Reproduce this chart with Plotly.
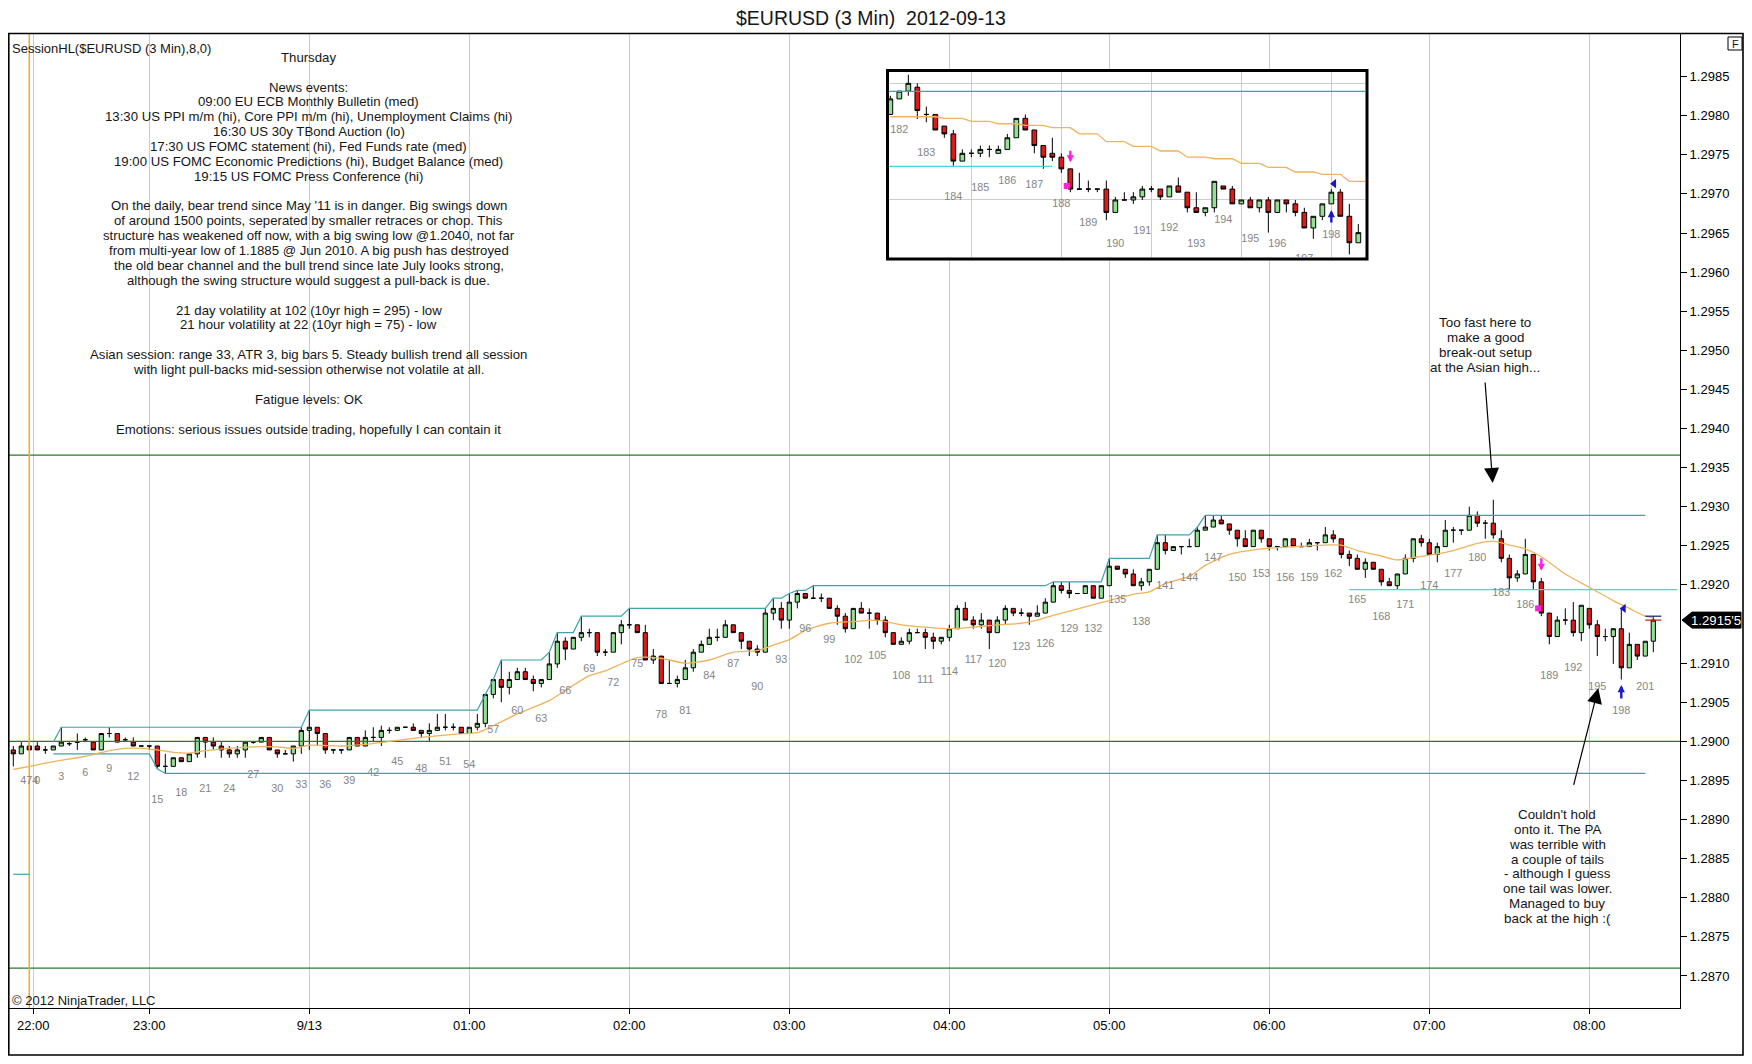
import plotly.graph_objects as go

# The page adds an 8 px body margin, so the figure is placed at (8, 8) on the page
# and kept 8 px short of the right / bottom edge so the page never scrolls.
# All pixel positions below are page positions measured on the reference.
OFF = 8
PAGE_W, PAGE_H = 1752, 1064
FIG_W, FIG_H = PAGE_W - 2 * OFF, PAGE_H - 2 * OFF
L, R, T, B = 8, 1680, 34, 1008      # plot area on the page


def px(x):
    return (x - L) / (R - L)


def py(y):
    return (B - y) / (B - T)


FONT = "Liberation Sans, Arial, sans-serif"
INK = "#161616"
UP = "#93e093"
DOWN = "#dc1a1a"
EMA_COL = "#efb35c"
HL_COL = "#3ea3ad"
LEVEL_COL = "#2a7a2a"
CYAN = "#45d6e0"
GRID = "#cccccc"

BASE = 1.2900   # all *_p values are pips above 1.2900
PIP = 0.0001

# ---- 3 min bars, numbered like the chart (-3..-1 = last bars of previous session)
bar_num = list(range(-3, 203))
open_p = [
    -1.1, -1.6, -0.6, -0.6, -1.1, -1.1, -0.6, -0.3, -0.1, 0.2,
    -0.1, -1.1, 1.0, 1.0, 0.2, -0.1, -0.6, -0.6, -0.6, -3.2,
    -3.2, -2.1, -2.6, -1.6, 0.5, -0.1, -0.6, -1.1, -1.6, -1.1,
    -0.1, -0.1, 0.5, -1.1, -1.6, -1.6, -0.6, 1.4, 1.8, 1.0,
    -1.1, -1.1, -1.1, 0.5, -0.6, 0.5, 0.5, 1.4, 1.4, 1.8,
    1.8, 1.4, 1.0, 1.4, 1.8, 1.8, 1.8, 1.0, 1.8, 2.3,
    6.0, 7.9, 6.9, 7.9, 8.9, 7.9, 7.4, 7.9, 9.9, 12.8,
    11.8, 13.3, 13.9, 13.9, 11.4, 11.4, 13.9, 14.9, 14.9, 13.9,
    10.4, 10.9, 7.4, 7.4, 7.9, 9.4, 11.4, 12.4, 13.3, 13.3,
    14.9, 13.9, 12.8, 11.8, 11.4, 16.4, 17.0, 15.5, 17.8, 18.9,
    18.3, 18.3, 18.3, 17.0, 16.0, 14.4, 17.0, 16.4, 16.4, 15.5,
    13.9, 12.4, 12.8, 13.9, 13.9, 13.3, 12.8, 13.3, 14.4, 17.0,
    15.5, 14.9, 15.5, 13.9, 15.5, 17.0, 16.4, 16.4, 16.0, 16.4,
    17.8, 19.9, 19.3, 18.9, 18.9, 19.9, 18.3, 19.9, 22.4, 22.0,
    21.4, 19.9, 20.4, 22.0, 25.4, 24.4, 24.9, 24.9, 24.9, 27.0,
    27.4, 28.3, 27.8, 27.0, 25.9, 24.9, 27.0, 25.9, 24.9, 24.9,
    25.9, 24.9, 24.9, 25.4, 25.4, 26.4, 25.9, 23.9, 23.4, 22.0,
    22.9, 22.0, 20.4, 19.9, 21.4, 23.4, 25.9, 25.4, 23.9, 24.9,
    27.0, 27.0, 27.0, 28.9, 27.9, 27.9, 25.9, 23.4, 20.9, 21.4,
    23.9, 20.4, 16.4, 13.4, 15.5, 15.5, 13.9, 17.0, 14.9, 13.4,
    13.4, 14.4, 9.4, 12.4, 10.9, 12.8,
]
high_p = [
    -0.6, -0.1, -0.1, -0.1, -0.6, -0.6, 1.8, -0.1, 1.0, 0.5,
    -0.1, 1.0, 1.8, 1.0, 0.5, 0.5, -0.6, -0.6, -0.6, -1.6,
    -2.1, -2.1, -1.6, 0.5, 0.5, 0.5, -0.1, -0.6, -0.6, -0.1,
    0.0, 0.5, 0.5, -1.1, -1.1, -0.6, 1.8, 4.0, 1.8, 1.0,
    -1.1, -1.1, 0.5, 0.5, 1.4, 1.8, 2.0, 1.8, 1.8, 1.8,
    2.3, 1.4, 2.3, 3.5, 3.5, 2.3, 1.8, 1.8, 3.5, 6.0,
    7.9, 10.4, 8.9, 9.4, 9.4, 8.4, 7.9, 11.4, 13.9, 13.3,
    13.3, 16.0, 14.4, 13.9, 11.8, 13.9, 15.5, 17.0, 14.9, 14.9,
    11.8, 10.9, 10.4, 8.4, 10.4, 11.8, 12.9, 14.4, 14.4, 15.5,
    14.9, 13.9, 12.8, 12.3, 17.0, 18.3, 17.8, 18.9, 19.3, 18.9,
    19.9, 18.9, 18.3, 17.4, 16.4, 17.0, 17.8, 17.0, 16.4, 16.0,
    13.9, 13.3, 14.4, 14.4, 14.4, 13.9, 13.3, 14.9, 17.4, 17.8,
    16.0, 16.4, 15.5, 16.0, 17.4, 17.0, 17.0, 16.4, 17.4, 18.3,
    20.4, 20.4, 20.4, 18.9, 19.9, 19.9, 19.9, 23.4, 22.4, 22.0,
    22.0, 20.9, 22.0, 26.4, 26.4, 24.9, 24.9, 25.9, 27.4, 28.9,
    28.9, 28.9, 27.8, 27.0, 27.0, 27.0, 27.0, 25.9, 24.9, 25.9,
    25.9, 25.4, 25.9, 25.4, 27.4, 27.0, 25.9, 24.4, 23.9, 23.4,
    22.9, 22.0, 20.9, 21.4, 23.9, 25.9, 26.4, 25.9, 25.4, 28.3,
    27.4, 27.0, 30.0, 29.4, 28.3, 30.9, 27.0, 23.9, 21.9, 25.9,
    23.9, 20.9, 16.4, 16.0, 17.0, 17.8, 17.4, 17.0, 15.5, 14.4,
    14.4, 17.0, 13.9, 12.4, 12.8, 16.0,
]
low_p = [
    -3.2, -1.6, -1.1, -1.1, -1.6, -1.1, -0.6, -0.6, -1.1, -0.1,
    -1.1, -1.1, 0.5, -0.1, -0.1, -0.6, -0.6, -1.1, -3.5, -4.1,
    -3.2, -2.6, -2.6, -2.1, -2.1, -1.1, -2.1, -2.1, -2.1, -2.1,
    -0.3, -0.1, -1.1, -2.1, -1.6, -2.6, -1.6, -1.1, -0.6, -1.6,
    -1.6, -1.6, -1.1, -0.6, -0.6, -0.1, -0.6, 1.0, 1.4, 1.8,
    1.4, 0.5, -0.1, 1.4, 1.4, 1.4, 1.0, 1.0, 1.4, 1.8,
    5.5, 5.0, 6.0, 7.9, 7.9, 6.4, 6.9, 7.9, 9.4, 10.4,
    11.8, 12.8, 13.3, 10.9, 10.9, 11.4, 12.4, 14.4, 13.9, 10.4,
    9.9, 7.4, 7.4, 6.9, 7.9, 8.9, 11.4, 12.4, 12.8, 13.3,
    13.9, 11.8, 10.9, 10.9, 11.4, 15.5, 14.4, 14.4, 17.0, 18.3,
    18.3, 17.8, 17.0, 14.9, 13.9, 14.4, 16.4, 14.4, 14.9, 13.3,
    12.4, 12.4, 12.4, 13.9, 11.8, 11.8, 12.4, 12.8, 14.4, 15.5,
    14.4, 14.4, 11.8, 13.9, 14.9, 16.0, 16.0, 14.9, 16.0, 16.4,
    17.8, 18.9, 18.3, 18.9, 18.9, 18.3, 18.3, 19.9, 22.0, 20.9,
    19.9, 19.3, 19.9, 22.0, 23.9, 24.4, 23.9, 24.9, 24.9, 27.0,
    27.4, 27.8, 26.4, 24.9, 24.9, 24.9, 25.4, 24.4, 24.4, 24.9,
    24.9, 24.9, 24.9, 24.4, 25.4, 25.4, 23.4, 22.4, 22.0, 20.9,
    22.0, 19.9, 19.9, 19.4, 21.4, 22.9, 24.9, 23.9, 22.9, 24.9,
    25.4, 26.4, 27.0, 27.4, 25.9, 25.9, 22.9, 19.4, 20.4, 21.4,
    19.4, 16.0, 12.4, 13.4, 14.9, 13.4, 12.8, 14.4, 10.9, 12.8,
    9.9, 7.9, 9.4, 10.4, 10.9, 11.4,
]
close_p = [
    -1.6, -0.6, -1.1, -1.1, -1.1, -0.6, -0.1, -0.3, -0.1, 0.2,
    -1.1, 1.0, 1.0, -0.1, 0.2, -0.6, -0.6, -0.6, -3.2, -3.2,
    -2.1, -2.6, -1.6, 0.5, -0.1, -0.6, -1.1, -1.6, -1.1, -0.1,
    -0.1, 0.5, -1.1, -1.6, -1.6, -0.6, 1.4, 1.8, 1.0, -1.1,
    -1.1, -1.1, 0.5, -0.6, 0.5, 0.5, 1.4, 1.4, 1.8, 1.8,
    1.4, 1.0, 1.4, 1.8, 1.8, 1.8, 1.0, 1.8, 2.3, 6.0,
    7.9, 6.9, 7.9, 8.9, 7.9, 7.4, 7.9, 9.9, 12.8, 11.8,
    13.3, 13.9, 13.9, 11.4, 11.4, 13.9, 14.9, 14.9, 13.9, 10.4,
    10.9, 7.4, 7.4, 7.9, 9.4, 11.4, 12.4, 13.3, 13.3, 14.9,
    13.9, 12.8, 11.8, 11.4, 16.4, 17.0, 15.5, 17.8, 18.9, 18.3,
    18.3, 18.3, 17.0, 16.0, 14.4, 17.0, 16.4, 16.4, 15.5, 13.9,
    12.4, 12.8, 13.9, 13.9, 13.3, 12.8, 13.3, 14.4, 17.0, 15.5,
    14.9, 15.5, 13.9, 15.5, 17.0, 16.4, 16.4, 16.0, 16.4, 17.8,
    19.9, 19.3, 18.9, 18.9, 19.9, 18.3, 19.9, 22.4, 22.0, 21.4,
    19.9, 20.4, 22.0, 25.4, 24.4, 24.9, 24.9, 24.9, 27.0, 27.4,
    28.3, 27.8, 27.0, 25.9, 24.9, 27.0, 25.9, 24.9, 24.9, 25.9,
    24.9, 24.9, 25.4, 25.4, 26.4, 25.9, 23.9, 23.4, 22.0, 22.9,
    22.0, 20.4, 19.9, 21.4, 23.4, 25.9, 25.4, 23.9, 24.9, 27.0,
    27.0, 27.0, 28.9, 27.9, 27.9, 26.4, 23.4, 20.9, 21.4, 23.9,
    20.4, 16.4, 13.4, 15.5, 15.5, 13.9, 17.4, 14.9, 13.4, 13.4,
    14.4, 9.4, 12.4, 10.9, 12.8, 15.5,
]

# orange average line, read at sample bars
ema_bars = [-3, -0.5, 2, 5, 7, 9, 11, 13, 15, 17, 19, 21, 24, 27, 30, 32, 34, 38, 41, 44,
            48, 52, 55, 57, 60, 64, 66, 69, 71, 75, 78, 81, 84, 87, 90, 92, 94, 96, 99, 102,
            105, 108, 111, 114, 117, 120, 123, 125, 127, 131, 134, 137, 139, 141, 144, 146, 149, 153, 157, 161,
            163, 165, 168, 170, 172, 174, 177, 180, 182, 184, 186, 188, 191, 194, 197, 199, 201, 202]
ema_pips = [-3.6, -3.1, -2.6, -2.1, -1.7, -1.2, -0.9, -0.9, -1.1, -1.4, -1.5, -1.2, -0.9, -0.7, -0.7, -0.9, -0.5, -0.6, -0.4, 0.0,
            0.5, 0.9, 1.1, 2.0, 3.5, 5.2, 6.5, 8.4, 9.0, 10.7, 10.6, 10.0, 10.4, 11.4, 11.6, 12.3, 13.0, 14.2, 15.1, 15.3,
            15.5, 14.9, 14.6, 14.4, 14.6, 14.9, 15.1, 15.5, 16.1, 17.2, 18.0, 18.8, 19.1, 20.2, 21.1, 22.5, 23.9, 24.6, 24.9, 25.1,
            25.1, 24.4, 23.7, 23.2, 23.5, 23.8, 24.4, 25.3, 25.6, 25.1, 24.6, 23.6, 21.4, 19.7, 18.0, 17.0, 16.0, 15.8]

# horizontal levels (prices)
green_levels = [1.29366, 1.29000, 1.28710]
session_first_bar, session_last_bar, hl_draw_from, hl_extend_to = 0, 153, 2, 201
prev_session_low = -17.0          # pips, the stub at the far left
prev_low_bars = [-3, -1]
level_1919 = 19.4                 # pips, cyan line from the 165 area
level_1919_bars = [164, 205]

# bar counter labels (every third bar)
prev_last_bar = 474
label_bars = [-1] + list(range(0, 202, 3))
label_text = [str(prev_last_bar)] + [str(b) for b in range(0, 202, 3)]

# trade marks on the main chart (bar, pips)
sell_arrow = (188, 21.8)
sell_fill = (187.6, 17.0)
buy_arrow = (198, 7.2)
buy_fill = (198.3, 17.0)

# ---- inset (1 min bars, 3 per counter step)
inset_j = list(range(0, 53))
in_open = [26.0, 28.0, 29.0, 29.5, 26.0, 26.0, 24.5, 23.5, 20.0, 21.0,
           21.0, 21.5, 21.0, 21.5, 23.0, 25.5, 24.0, 22.0, 21.0, 20.5,
           19.0, 16.4, 16.4, 16.4, 16.4, 13.4, 15.0, 15.0, 15.4, 16.4,
           16.4, 15.4, 16.8, 16.0, 14.0, 13.4, 14.0, 16.8, 16.4, 14.5,
           15.0, 14.0, 15.0, 13.4, 15.0, 14.5, 13.4, 11.4, 12.9, 14.5,
           16.0, 12.9, 9.5]
in_high = [28.4, 29.0, 31.1, 30.0, 27.0, 26.0, 24.5, 24.0, 21.5, 21.5,
           22.0, 22.0, 22.0, 23.5, 25.5, 26.0, 24.0, 22.0, 23.0, 21.0,
           19.0, 18.5, 17.5, 16.4, 17.5, 15.4, 16.0, 16.0, 16.8, 16.8,
           16.4, 16.8, 17.9, 16.0, 16.0, 14.0, 17.4, 16.8, 16.8, 15.0,
           15.4, 15.0, 15.4, 15.0, 15.0, 15.0, 14.0, 12.9, 14.5, 16.4,
           16.4, 14.5, 11.9]
in_low = [26.0, 28.0, 28.4, 25.4, 25.0, 24.0, 23.0, 19.4, 20.0, 20.5,
          20.5, 20.5, 21.0, 21.5, 23.0, 24.0, 21.0, 19.0, 20.0, 18.5,
          16.0, 16.4, 16.0, 16.0, 12.4, 13.4, 15.0, 14.5, 15.0, 16.0,
          15.0, 15.4, 16.0, 13.4, 13.4, 12.9, 13.4, 16.4, 14.5, 14.5,
          14.0, 13.4, 10.8, 13.4, 13.4, 12.9, 11.4, 10.0, 12.4, 14.5,
          12.9, 8.0, 9.5]
in_close = [28.0, 29.0, 30.0, 26.5, 26.0, 24.0, 23.5, 20.0, 21.0, 21.0,
            21.5, 21.5, 21.5, 23.0, 25.5, 24.0, 22.0, 20.5, 20.5, 19.0,
            16.4, 16.4, 16.4, 16.4, 13.4, 15.0, 15.0, 15.4, 16.4, 16.4,
            15.4, 16.8, 16.0, 14.0, 13.4, 14.0, 17.4, 16.4, 14.5, 15.0,
            14.0, 15.0, 13.4, 15.0, 14.5, 13.4, 11.4, 12.9, 14.5, 16.0,
            12.9, 9.5, 10.8]
in_ema_steps = [25.7, 25.7, 25.5, 25.1, 24.8, 24.6, 24.3, 23.5, 22.5, 21.9,
                21.3, 20.5, 20.3, 19.7, 19.2, 18.6, 18.3, 17.4]
in_label_j = list(range(1, 50, 3))
in_label_text = [str(n) for n in range(182, 199)]
in_asian_high = 28.97
in_level = 19.33
in_level_to = 18.0
in_sell_arrow = (20, 19.84)
in_sell_fill = (19.6, 16.8)
in_buy_arrow = (49, 13.7)
in_buy_fill = (49.3, 17.1)

# axis text
time_ticks = [-0.5, 14, 34, 54, 74, 94, 114, 134, 154, 174, 194]
time_text = ["22:00", "23:00", "9/13", "01:00", "02:00", "03:00", "04:00",
             "05:00", "06:00", "07:00", "08:00"]
# 1.2915 sits under the last-price box, so it is not printed
price_ticks = [round(1.2870 + 0.0005 * k, 4) for k in range(24) if k != 9]

notes = [
    "Thursday", "",
    "News events:",
    "09:00 EU ECB Monthly Bulletin (med)",
    "13:30 US PPI m/m (hi), Core PPI m/m (hi), Unemployment Claims (hi)",
    "16:30 US 30y TBond Auction (lo)",
    "17:30 US FOMC statement (hi), Fed Funds rate (med)",
    "19:00 US FOMC Economic Predictions (hi), Budget Balance (med)",
    "19:15 US FOMC Press Conference (hi)", "",
    "On the daily, bear trend since May '11 is in danger. Big swings down",
    "of around 1500 points, seperated by smaller retraces or chop. This",
    "structure has weakened off now, with a big swing low @1.2040, not far",
    "from multi-year low of 1.1885 @ Jun 2010. A big push has destroyed",
    "the old bear channel and the bull trend since late July looks strong,",
    "although the swing structure would suggest a pull-back is due.", "",
    "21 day volatility at 102 (10yr high = 295) - low",
    "21 hour volatility at 22 (10yr high = 75) - low", "",
    "Asian session: range 33, ATR 3, big bars 5. Steady bullish trend all session",
    "with light pull-backs mid-session otherwise not volatile at all.", "",
    "Fatigue levels: OK", "",
    "Emotions: serious issues outside trading, hopefully I can contain it",
]
note_top = ["Too fast here to", "make a good", "break-out setup", "at the Asian high..."]
note_bottom = ["Couldn't hold", "onto it. The PA", "was terrible with", "a couple of tails",
               "- although I guess", "one tail was lower.", "Managed to buy", "back at the high :("]


def price(p):
    return BASE + p * PIP


# bar i sits at page x = 37.3 + 8 i ; price p at page y = 741.3 - (p - 1.29) * 78200
X_RANGE = [(L - 37.3) / 8, (R - 37.3) / 8]
Y_RANGE = [1.28659, 1.299045]
Y_PX = (B - T) / (Y_RANGE[1] - Y_RANGE[0])

IN_X = [889, 1365]
IN_Y = [72, 257]
IN_X_RANGE = [-0.148, 52.74]
IN_Y_RANGE = [price(7.668), price(31.457)]
IN_Y_PX = (IN_Y[1] - IN_Y[0]) / (IN_Y_RANGE[1] - IN_Y_RANGE[0])
LABEL_GAP = 31.5

fig = go.Figure()


def hline(x0, x1, p, color, width=1.2, xa="x", ya="y"):
    fig.add_trace(go.Scatter(x=[x0, x1], y=[p, p], mode="lines", xaxis=xa, yaxis=ya,
                             line=dict(color=color, width=width), hoverinfo="skip"))


# main chart: levels and lines
for lv in green_levels:
    hline(X_RANGE[0], X_RANGE[1], lv, LEVEL_COL)

fig.add_trace(go.Scatter(x=[-1, -1], y=Y_RANGE, mode="lines",
                         line=dict(color="#f0a830", width=1.5), hoverinfo="skip"))

hl_x, hl_hi, hl_lo = [], [], []
run_hi = run_lo = None
for b, h, lo in zip(bar_num, high_p, low_p):
    if session_first_bar <= b <= session_last_bar:
        run_hi = h if run_hi is None else max(run_hi, h)
        run_lo = lo if run_lo is None else min(run_lo, lo)
        if b >= hl_draw_from:
            hl_x.append(b)
            hl_hi.append(price(run_hi))
            hl_lo.append(price(run_lo))
hl_x.append(hl_extend_to)
hl_hi.append(hl_hi[-1])
hl_lo.append(hl_lo[-1])
for ys in (hl_hi, hl_lo):
    fig.add_trace(go.Scatter(x=hl_x, y=ys, mode="lines", line=dict(color=HL_COL, width=1.2),
                             hoverinfo="skip"))
hline(prev_low_bars[0], prev_low_bars[1], price(prev_session_low), HL_COL)
hline(level_1919_bars[0], level_1919_bars[1], price(level_1919), CYAN)

fig.add_trace(go.Scatter(x=ema_bars, y=[price(v) for v in ema_pips], mode="lines",
                         line=dict(color=EMA_COL, width=1.3, shape="spline", smoothing=0.6),
                         hoverinfo="skip"))

candle_style = dict(
    increasing=dict(fillcolor=UP, line=dict(color="black", width=1)),
    decreasing=dict(fillcolor=DOWN, line=dict(color="black", width=1)),
    whiskerwidth=0, hoverinfo="skip",
)
fig.add_trace(go.Candlestick(x=bar_num,
                             open=[price(v) for v in open_p], high=[price(v) for v in high_p],
                             low=[price(v) for v in low_p], close=[price(v) for v in close_p],
                             **candle_style))

lab_y = [price(low_p[bar_num.index(b)]) - LABEL_GAP / Y_PX for b in label_bars]
fig.add_trace(go.Scatter(x=label_bars, y=lab_y, mode="text", text=label_text,
                         textposition="middle center", hoverinfo="skip",
                         textfont=dict(family=FONT, size=10.8, color="#858585")))

# last bar marks (high / close)
hline(bar_num[-1] - 1, bar_num[-1] + 1, price(high_p[-1]), "#1f2a80", 1.3)
hline(bar_num[-1] - 1, bar_num[-1] + 1, price(close_p[-1]), "#d42020", 1.3)

fig.add_trace(go.Scatter(x=[sell_fill[0]], y=[price(sell_fill[1])], mode="markers",
                         marker=dict(symbol="square", size=6, color="#ff20e0"), hoverinfo="skip"))
fig.add_trace(go.Scatter(x=[buy_fill[0]], y=[price(buy_fill[1])], mode="markers",
                         marker=dict(symbol="triangle-left", size=8, color="#1818c8"), hoverinfo="skip"))

# inset chart
fig.add_trace(go.Scatter(x=[IN_X_RANGE[0], IN_X_RANGE[1]], y=[price(in_asian_high)] * 2,
                         mode="lines", xaxis="x2", yaxis="y2",
                         line=dict(color=HL_COL, width=1.2), hoverinfo="skip"))
hline(IN_X_RANGE[0], in_level_to, price(in_level), CYAN, 1.2, "x2", "y2")
in_ema = [v for v in in_ema_steps for _ in range(3)]
fig.add_trace(go.Scatter(x=list(range(len(in_ema))), y=[price(v) for v in in_ema], mode="lines",
                         xaxis="x2", yaxis="y2", line=dict(color=EMA_COL, width=1.3),
                         hoverinfo="skip"))
fig.add_trace(go.Candlestick(x=inset_j, xaxis="x2", yaxis="y2",
                             open=[price(v) for v in in_open], high=[price(v) for v in in_high],
                             low=[price(v) for v in in_low], close=[price(v) for v in in_close],
                             **candle_style))
in_lab_y = [price(in_low[j]) - LABEL_GAP / IN_Y_PX for j in in_label_j]
fig.add_trace(go.Scatter(x=in_label_j, y=in_lab_y, mode="text", text=in_label_text,
                         xaxis="x2", yaxis="y2", cliponaxis=True, hoverinfo="skip",
                         textfont=dict(family=FONT, size=10.8, color="#858585")))
fig.add_trace(go.Scatter(x=[in_sell_fill[0]], y=[price(in_sell_fill[1])], mode="markers",
                         xaxis="x2", yaxis="y2",
                         marker=dict(symbol="square", size=6, color="#ff20e0"), hoverinfo="skip"))
fig.add_trace(go.Scatter(x=[in_buy_fill[0]], y=[price(in_buy_fill[1])], mode="markers",
                         xaxis="x2", yaxis="y2",
                         marker=dict(symbol="triangle-left", size=8, color="#1818c8"), hoverinfo="skip"))

# ---- annotations
ann = []


def text_at(s, x, y, size=13.2, anchor="center", color=INK):
    ann.append(dict(text=s, x=px(x), y=py(y), xref="paper", yref="paper", showarrow=False,
                    xanchor=anchor, yanchor="middle", font=dict(family=FONT, size=size, color=color)))


def block(lines, cx, y0, step, size):
    for k, s in enumerate(lines):
        if s:
            text_at(s, cx, y0 + step * k, size)


def arrow(tip_x, tip_y, dx, dy, width, size, color, xref="paper", yref="paper"):
    ann.append(dict(text="", x=tip_x, y=tip_y, xref=xref, yref=yref, ax=dx, ay=dy,
                    showarrow=True, arrowhead=2, arrowsize=size, arrowwidth=width,
                    arrowcolor=color, standoff=0))


text_at("\u0024EURUSD (3 Min)\u00a0 2012-09-13", 870.5, 18, 19.5)
text_at("SessionHL($EURUSD (3 Min),8,0)", 10, 48, 13, "left")
text_at("\u00a9 2012 NinjaTrader, LLC", 10, 1000.5, 13, "left")
block(notes, 308.5, 57.3, 14.87, 13.2)
block(note_top, 1485, 322.6, 14.9, 13.4)
block(note_bottom, 1557, 814.3, 14.9, 13.4)
arrow(px(1492.7), py(483), -7.7, -102, 1.2, 2.5, "black")
arrow(px(1598.3), py(688.3), -25, 98, 1.2, 2.5, "black")
arrow(sell_arrow[0], price(sell_arrow[1]), 0, -14, 2.4, 0.6, "#ff20e0", "x", "y")
arrow(buy_arrow[0], price(buy_arrow[1]), 0, 15, 2.4, 0.6, "#1818c8", "x", "y")
arrow(in_sell_arrow[0], price(in_sell_arrow[1]), 0, -13, 2.4, 0.6, "#ff20e0", "x2", "y2")
arrow(in_buy_arrow[0], price(in_buy_arrow[1]), 0, 14, 2.4, 0.6, "#1818c8", "x2", "y2")

# last price box
last = price(close_p[-1])
yc = T + (Y_RANGE[1] - last) * Y_PX
tag = f"{last:.5f}"
tag = tag[:-1] + "'" + tag[-1]
text_at(tag, 1715.5, yc, 13.2, "center", "white")
text_at("F", 1735, 43.6, 11)

RIGHT_EDGE = OFF + FIG_W - 1
shapes = [
    dict(type="path", xref="paper", yref="paper", layer="above",
         path=(f"M{px(1682)},{py(yc)} L{px(1692)},{py(yc - 8)} L{px(1741)},{py(yc - 8)} "
               f"L{px(1741)},{py(yc + 8)} L{px(1692)},{py(yc + 8)} Z"),
         fillcolor="black", line=dict(color="black", width=1)),
    dict(type="rect", xref="paper", yref="paper", layer="above",
         x0=px(887.5), x1=px(1367), y0=py(259), y1=py(70.5),
         line=dict(color="black", width=3)),
    dict(type="rect", xref="paper", yref="paper", layer="above",
         x0=px(1728), x1=px(1742), y0=py(50), y1=py(37),
         line=dict(color="black", width=1)),
    dict(type="rect", xref="paper", yref="paper", layer="above",
         x0=px(8.8), x1=px(RIGHT_EDGE), y0=py(OFF + FIG_H - 1), y1=py(33.5),
         line=dict(color="black", width=1.6)),
]

fig.update_layout(
    width=FIG_W, height=FIG_H,
    margin=dict(l=L - OFF, r=OFF + FIG_W - R, t=T - OFF, b=OFF + FIG_H - B, pad=0),
    paper_bgcolor="white", plot_bgcolor="white",
    showlegend=False, boxgap=0.25, hovermode=False,
    font=dict(family=FONT, size=13, color="black"),
    annotations=ann, shapes=shapes,
    xaxis=dict(domain=[0, 1], range=X_RANGE, tickmode="array", tickvals=time_ticks,
               ticktext=time_text, showgrid=True, gridcolor=GRID, gridwidth=1,
               ticks="outside", ticklen=5, tickcolor="black", showline=True,
               linecolor="black", linewidth=1, zeroline=False,
               rangeslider=dict(visible=False), tickfont=dict(size=13)),
    yaxis=dict(domain=[0, 1], range=Y_RANGE, side="right", tickmode="array",
               tickvals=price_ticks, ticktext=[f"{v:.4f}" for v in price_ticks],
               ticks="outside", ticklen=6, tickcolor="black", showline=True,
               linecolor="black", linewidth=1, showgrid=False, zeroline=False,
               tickfont=dict(size=13)),
    xaxis2=dict(domain=[px(IN_X[0]), px(IN_X[1])], range=IN_X_RANGE, anchor="y2",
                tickmode="array", tickvals=[9, 19, 29, 39, 49], showgrid=True,
                gridcolor=GRID, showticklabels=False, ticks="", zeroline=False,
                showline=False, rangeslider=dict(visible=False)),
    yaxis2=dict(domain=[py(IN_Y[1]), py(IN_Y[0])], range=IN_Y_RANGE, anchor="x2",
                tickmode="array", tickvals=[1.2915, 1.2930], showgrid=True,
                gridcolor=GRID, showticklabels=False, ticks="", zeroline=False,
                showline=False),
)

fig.write_html("out.html")
